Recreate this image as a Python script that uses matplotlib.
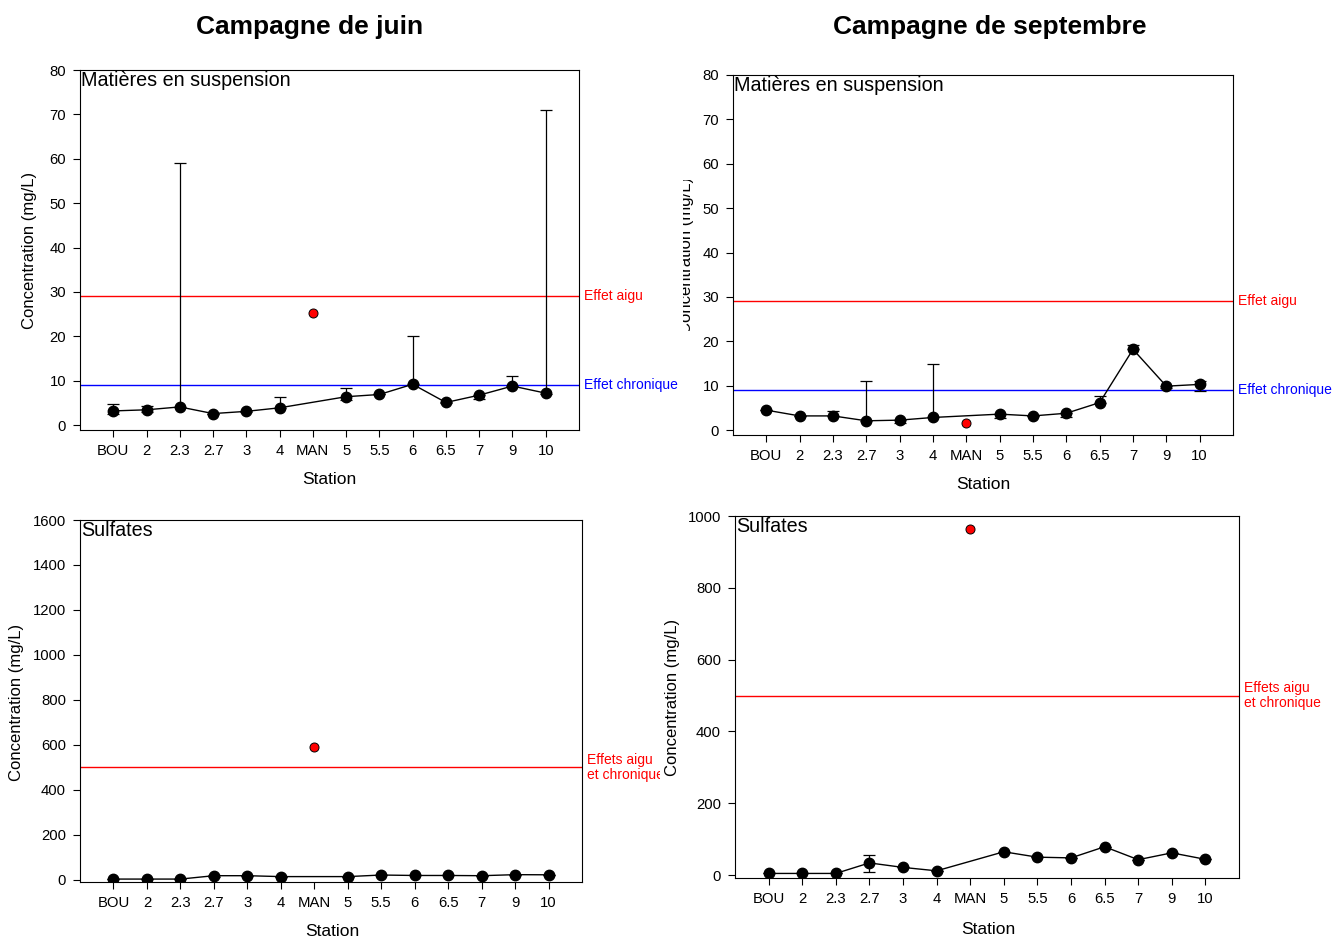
import matplotlib
matplotlib.use("Agg")
import matplotlib.pyplot as plt
import numpy as np
from matplotlib.transforms import Bbox, TransformedBbox

plt.rcParams['font.family'] = ['Liberation Sans', 'DejaVu Sans']

stations = ['BOU', '2', '2.3', '2.7', '3', '4', 'MAN', '5', '5.5', '6', '6.5', '7', '9', '10']

# MES, June (MAN plotted separately in red)
mes_juin = [3.2, 3.45, 4.1, 2.6, 3.1, 3.9, 25.2, 6.4, 6.9, 9.2, 5.1, 6.75, 8.8, 7.2]
mes_juin_hi = [4.65, 4.3, 59.0, 2.6, 3.1, 6.4, 25.2, 8.3, 6.9, 20.0, 5.1, 6.75, 11.0, 71.0]
mes_juin_lo = [2.5, 2.9, 4.1, 2.4, 3.0, 3.9, 25.2, 5.6, 6.9, 9.2, 5.0, 5.9, 8.8, 7.0]

# MES, September
mes_sept = [4.5, 3.2, 3.2, 2.1, 2.25, 2.85, 1.5, 3.6, 3.2, 3.8, 6.2, 18.2, 9.9, 10.3]
mes_sept_hi = [4.5, 3.2, 4.4, 11.0, 2.25, 15.0, 1.5, 3.6, 3.2, 3.8, 7.6, 19.1, 9.9, 11.1]
mes_sept_lo = [4.5, 3.2, 3.2, 2.1, 1.6, 2.85, 1.5, 2.7, 3.2, 2.85, 6.2, 18.2, 9.6, 8.9]

# Sulfates
so4_juin = [4, 4, 4, 19, 19, 15, 593, 15, 22, 20, 20, 19, 23.6, 23]
so4_juin_hi = [4, 4, 4, 22, 19, 15, 593, 15, 22, 20, 20, 19, 23.6, 23]
so4_juin_lo = [4, 4, 4, 14, 19, 15, 593, 15, 22, 20, 20, 19, 23.6, 23]

so4_sept = [4.7, 4.7, 4.7, 34, 21.5, 12, 964, 65, 50, 48, 79, 43, 62, 44]
so4_sept_hi = [4.7, 4.7, 4.7, 55, 21.5, 12, 964, 65, 50, 48, 79, 43, 62, 44]
so4_sept_lo = [4.7, 4.7, 4.7, 9, 21.5, 12, 964, 65, 50, 48, 79, 43, 62, 44]

MES_AIGU = 29
MES_CHRON = 9
SO4_EFFETS = 500

W, H = 1335, 938
fig = plt.figure(figsize=(W / 100, H / 100), dpi=100)


def px_axes(l, t, r, b):
    return fig.add_axes([l / W, 1 - b / H, (r - l) / W, (b - t) / H])


def px_clip(artist, l, t, r, b):
    artist.set_clip_box(TransformedBbox(Bbox([[l / W, 1 - b / H], [r / W, 1 - t / H]]), fig.transFigure))
    artist.set_clip_on(True)


def draw_panel(ax, y, hi, lo, ylim, yticks, name):
    x = np.arange(1, len(stations) + 1)
    y = np.asarray(y, float)
    hi = np.asarray(hi, float)
    lo = np.asarray(lo, float)
    iman = stations.index('MAN')
    keep = np.array([i != iman for i in range(len(stations))])
    ax.errorbar(x[keep], y[keep], yerr=[y[keep] - lo[keep], hi[keep] - y[keep]],
                fmt='none', ecolor='black', elinewidth=0.9, capsize=4.5, capthick=0.9, zorder=3)
    ax.plot(x[keep], y[keep], '-o', color='black', lw=1, ms=7.5, zorder=4)
    ax.plot(x[iman], y[iman], 'o', mfc='red', mec='black', mew=0.7, ms=6.5, zorder=4)
    ax.set_xlim(0, len(stations) + 1)
    ax.set_ylim(*ylim)
    ax.set_yticks(yticks)
    ax.set_xticks(x)
    ax.set_xticklabels(stations)
    ax.tick_params(labelsize=10.7, length=5, width=0.8, direction='out', pad=5)
    ax.text(0.003, 0.997, name, transform=ax.transAxes, ha='left', va='top', fontsize=14.2)
    for s in ax.spines.values():
        s.set_linewidth(0.8)


def seuil(ax, val, label, color):
    ax.axhline(val, color=color, lw=1, zorder=2)
    return ax.text(1.01, val, label, color=color, fontsize=10, va='center', linespacing=1.15,
                   transform=ax.get_yaxis_transform())


# top left
ax1 = px_axes(80, 70, 579, 430)
draw_panel(ax1, mes_juin, mes_juin_hi, mes_juin_lo, (-1.1, 80), np.arange(0, 81, 10),
           'Matières en suspension')
seuil(ax1, MES_AIGU, 'Effet aigu', 'red')
seuil(ax1, MES_CHRON, 'Effet chronique', 'blue')

# top right
ax2 = px_axes(733, 75, 1233, 435)
draw_panel(ax2, mes_sept, mes_sept_hi, mes_sept_lo, (-1.1, 80), np.arange(0, 81, 10),
           'Matières en suspension')
seuil(ax2, MES_AIGU, 'Effet aigu', 'red')
seuil(ax2, MES_CHRON, 'Effet chronique', 'blue')

# bottom left
ax3 = px_axes(80, 520, 582, 882)
draw_panel(ax3, so4_juin, so4_juin_hi, so4_juin_lo, (-9, 1600), np.arange(0, 1601, 200), 'Sulfates')
t = seuil(ax3, SO4_EFFETS, 'Effets aigu\net chronique', 'red')
px_clip(t, 0, 0, 660, H)

# bottom right
ax4 = px_axes(735, 516, 1239, 878)
draw_panel(ax4, so4_sept, so4_sept_hi, so4_sept_lo, (-8, 1000), np.arange(0, 1001, 200), 'Sulfates')
seuil(ax4, SO4_EFFETS, 'Effets aigu\net chronique', 'red')


def fig_text(xp, yp, s, **kw):
    return fig.text(xp / W, 1 - yp / H, s, **kw)


fig_text(310, 27, 'Campagne de juin', ha='center', va='center', fontsize=19, fontweight='bold')
fig_text(990, 27, 'Campagne de septembre', ha='center', va='center', fontsize=19, fontweight='bold')

for xp, yp in [(329, 479), (983, 484), (332, 931), (988, 929)]:
    fig_text(xp, yp, 'Station', ha='center', va='center', fontsize=12.5)

for xp, yp in [(30, 250), (17, 702), (673, 697)]:
    fig_text(xp, yp, 'Concentration (mg/L)', ha='center', va='center', rotation=90, fontsize=12)

yl = fig_text(687, 255, 'Concentration (mg/L)', ha='center', va='center', rotation=90, fontsize=12)
px_clip(yl, 683, 180, 700, 331)

fig.savefig('out.png', dpi=100)
